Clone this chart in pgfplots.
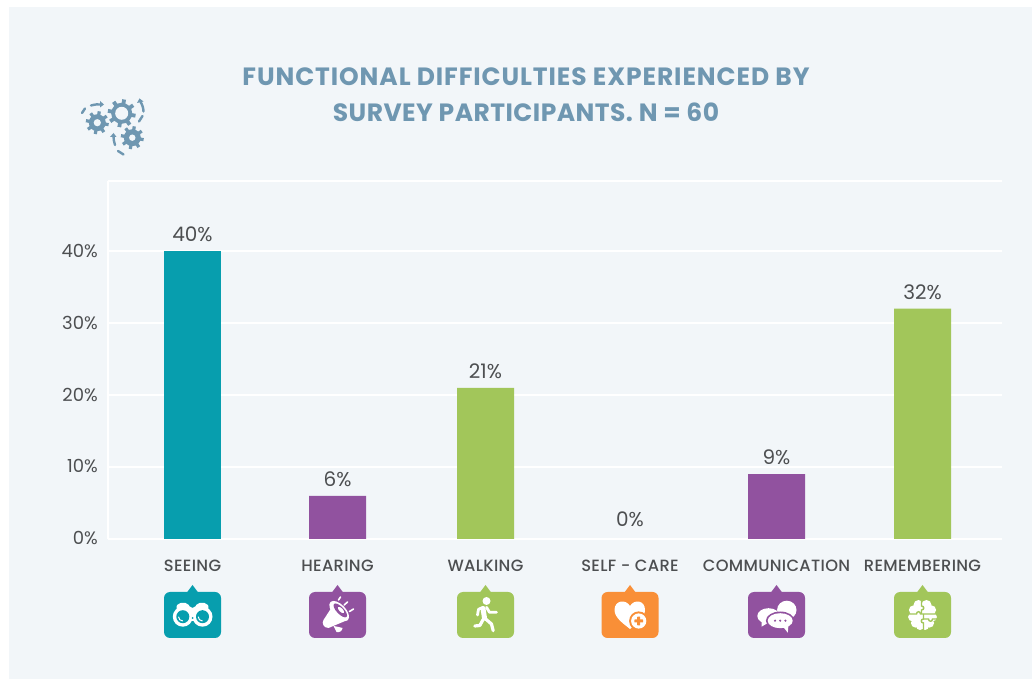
\documentclass[border=0pt]{standalone}
\usepackage{fontspec}
\usepackage{pgfplots}
\pgfplotsset{compat=1.18}
\setmainfont{Poppins}
\newfontfamily\labelfont[LetterSpace=2]{Poppins Medium}
\newfontfamily\numfont{Poppins}
\newfontfamily\headfontA[LetterSpace=3.6]{Poppins Bold}
\newfontfamily\headfontB[LetterSpace=1.8]{Poppins Bold}
\definecolor{panel}{HTML}{F2F6F9}
\definecolor{tealbar}{HTML}{079EAE}
\definecolor{purplebar}{HTML}{91529F}
\definecolor{greenbar}{HTML}{A2C65A}
\definecolor{orangebar}{HTML}{F98F37}
\definecolor{steel}{HTML}{6F97B1}
\definecolor{ink}{HTML}{4D4F51}

% Rounded tile with a small pointer on top; contents are drawn around (0,0)
\newcommand{\icontile}[2]{%
  \fill[#2,rounded corners=6pt] (#1-28.5,592) rectangle (#1+28.5,638);
  \fill[#2] (#1-6,593) -- (#1,585) -- (#1+6,593) -- cycle;
}
% Cog wheel: centre x, centre y, outer radius, body radius, hole radius, tooth width
\newcommand{\cog}[6]{%
  \fill[steel] (#1,#2) circle[radius=#4];
  \foreach \a in {0,45,...,315}
    \draw[steel,line width=#6pt] ([shift={(#1,#2)}]\a+10:#4-1) -- ([shift={(#1,#2)}]\a+10:#3);
  \fill[panel] (#1,#2) circle[radius=#5];
}

\begin{document}
\begin{tikzpicture}
\path[use as bounding box] (0,0) rectangle (1032pt,679pt);
\fill[white] (0,0) rectangle (1032pt,679pt);
\fill[panel] (9pt,0) rectangle (1032pt,672pt);

\begin{axis}[
  at={(108pt,140pt)}, anchor=south west,
  scale only axis, width=894pt, height=358pt,
  xmin=108, xmax=1002, ymin=0, ymax=49.72,
  axis y line*=left, axis x line*=bottom,
  axis line style={white,line width=2.5pt,-},
  xtick={192.5,337.5,485.5,630,776.5,922.5},
  xticklabels={SEEING,HEARING,WALKING,SELF - CARE,COMMUNICATION,REMEMBERING},
  ytick={0,10,20,30,40,49.72},
  yticklabels={\raisebox{2.5pt}{0\%},\raisebox{1.8pt}{10\%},\raisebox{1.2pt}{20\%},\raisebox{0.6pt}{30\%},40\%,{}},
  ymajorgrids, grid style={white,line width=2pt},
  major tick length=0pt,
  tick style={draw=none},
  xticklabel style={font=\fontsize{16.3}{16.3}\labelfont,text=ink,inner sep=0pt,anchor=base,yshift=-33pt},
  yticklabel style={font=\fontsize{18}{18}\numfont,text=ink,inner sep=0pt,anchor=east,xshift=-10pt},
  /pgf/number format/assume math mode=true,
  ybar, bar width=57pt, bar shift=0pt,
  nodes near coords={\pgfmathprintnumber{\pgfplotspointmeta}\%},
  every node near coord/.append style={font=\fontsize{20}{20}\numfont,text=ink,inner sep=0pt,anchor=base,yshift=9.5pt},
  clip=false,
]
\addplot[draw=none,fill=tealbar] coordinates {(192.5,40)};
\addplot[draw=none,fill=purplebar] coordinates {(337.5,6) (776.5,9)};
\addplot[draw=none,fill=greenbar] coordinates {(485.5,21) (922.5,32)};
\addplot[draw=none,fill=none,every node near coord/.append style={yshift=3pt}] coordinates {(630,0)};
\end{axis}

\begin{scope}[x=1pt,y=-1pt,shift={(0pt,679pt)}]
% heading
\node[font=\fontsize{25}{25}\headfontA,text=steel,inner sep=0pt] at (526,77) {FUNCTIONAL DIFFICULTIES EXPERIENCED BY};
\node[font=\fontsize{25}{25}\headfontB,text=steel,inner sep=0pt] at (526,112) {SURVEY PARTICIPANTS. N = 60};

% cog emblem
\cog{121.7}{113.3}{14}{10.5}{6.5}{3.8}
\cog{97.3}{122.7}{11.5}{8.5}{3.6}{3.2}
\cog{132.3}{137.7}{11.5}{8.5}{3.2}{3.2}
\begin{scope}[steel,line width=2.4pt,line cap=round]
  \draw (82,113) -- (85,108.5);
  \draw (91,105.5) .. controls (95,104.5) and (98,104) .. (101,104.5);
  \fill (100,101) -- (104,104.5) -- (100,107.5) -- cycle;
  \draw (139,121.5) -- (142.5,116);
  \draw (143.5,111.5) .. controls (143.5,108) and (142,104) .. (140.5,102);
  \fill (137,103) -- (139.5,98.5) -- (143.5,101.5) -- cycle;
  \draw (123.5,154.5) -- (118,151);
  \draw (115,145) .. controls (114,142) and (113.5,139) .. (113.5,136);
  \fill (110,137) -- (113.5,133) -- (116.5,137) -- cycle;
\end{scope}

% binoculars
\icontile{192.5}{tealbar}
\begin{scope}[shift={(192.5,615)}]
  \fill[white,rounded corners=2pt] (-17,-7) -- (-14,-12) -- (-5,-12) -- (-2,-7) -- (2,-7) -- (5,-12) -- (14,-12) -- (17,-7) -- (10,3) -- (-10,3) -- cycle;
  \fill[white] (-9.7,1.7) circle[radius=10];
  \fill[white] (10,1.7) circle[radius=10];
  \fill[white] (-3,-3) rectangle (3,6);
  \fill[tealbar] (-9.7,1.7) circle[radius=6.5];
  \fill[tealbar] (10,1.7) circle[radius=6.5];
  \draw[white,line width=1pt] (-14,1.7) arc[start angle=180,end angle=90,radius=4.3];
  \draw[white,line width=1pt] (5.7,1.7) arc[start angle=180,end angle=90,radius=4.3];
  \fill[tealbar] (0,3) circle[radius=1];
\end{scope}

% megaphone
\icontile{337.5}{purplebar}
\begin{scope}[shift={(337.5,615)}]
  \fill[white] (-3,-12) -- (10,5) -- (-9,13) .. controls (-14,13) and (-16,8) .. (-14,5) -- cycle;
  \fill[white] (1.7,-4) ellipse[x radius=12.5,y radius=6.5,rotate=-46];
  \fill[purplebar] (2.8,-4.6) ellipse[x radius=9,y radius=3.6,rotate=-46];
  \fill[white] (3.5,-5) ellipse[x radius=4,y radius=1.8,rotate=-46];
  \fill[white] (-4,11) -- (1,12) -- (5,13) .. controls (5,16) and (1,18) .. (-1,17) -- cycle;
  \begin{scope}[white,line width=1.6pt,line cap=round]
    \draw (1,-15) -- (3,-18);
    \draw (6.7,-10) -- (10,-13);
    \draw (12,-3.5) -- (16,-6);
  \end{scope}
\end{scope}

% walking figure
\icontile{485.5}{greenbar}
\begin{scope}[shift={(485.5,615)},white,line cap=round,line join=round]
  \fill (1,-14) circle[radius=4];
  \draw[line width=5pt] (-2.5,-6.5) -- (-1,3);
  \draw[line width=2.8pt] (-8,0) -- (-7,-5.7) -- (-2.3,-7.7);
  \draw[line width=2.8pt] (1,-7.7) -- (4,-2.7) -- (11,-2.7);
  \draw[line width=3.2pt] (-1.5,3) -- (-5.7,10.5) -- (-10.7,11);
  \draw[line width=3.2pt] (-0.7,3.3) -- (6,9) -- (7.7,15.7);
\end{scope}

% heart with plus
\icontile{630}{orangebar}
\begin{scope}[shift={(630,615)}]
  \fill[white] (0,14) .. controls (-6,9) and (-15.5,3) .. (-15.5,-5) .. controls (-15.5,-15) and (-4,-16) .. (0,-9) .. controls (4,-16) and (15,-15) .. (15,-5) .. controls (15,3) and (6,9) .. (0,14) -- cycle;
  \fill[orangebar] (8.7,6) circle[radius=9.6];
  \fill[white] (8.7,6) circle[radius=7.6];
  \fill[orangebar,rounded corners=0.5pt] (7.2,1.6) rectangle (10.2,10.4);
  \fill[orangebar,rounded corners=0.5pt] (4.3,4.5) rectangle (13.1,7.5);
\end{scope}

% speech bubbles
\icontile{776.5}{purplebar}
\begin{scope}[shift={(776.5,615)}]
  \fill[white] (10.3,-5) ellipse[x radius=9.7,y radius=9.3];
  \fill[white] (-8,1) ellipse[x radius=11.2,y radius=7.8];
  \fill[white] (-15,4) -- (-15,11.7) -- (-7,7) -- cycle;
  \fill[purplebar] (3.7,5.7) ellipse[x radius=14.3,y radius=9.2];
  \fill[white] (3.7,5.7) ellipse[x radius=12.5,y radius=7.5];
  \fill[white] (6,11) -- (11.3,17.7) -- (12,9) -- cycle;
  \foreach \dx in {-1.5,3.7,8.9} \fill[purplebar] (\dx,5.7) circle[radius=1.2];
\end{scope}

% puzzle brain
\icontile{922.5}{greenbar}
\begin{scope}[shift={(922.5,615)}]
  \fill[white] (0,0) ellipse[x radius=10,y radius=12];
  \foreach \x/\y/\r in {-4/-10/5,4/-10/5,-9/-5/4.6,9/-5/4.6,-10/2/4.4,10/2/4.4,-7/8/4.6,7/8/4.6,-2.5/11/4,2.5/11/4}
    \fill[white] (\x,\y) circle[radius=\r];
  \begin{scope}[greenbar,line width=1.4pt]
    \draw (-1,-15) -- (-1,-9) .. controls (2,-9) and (2,-5) .. (-1,-5) -- (-1,-1);
    \draw (-15,-1) -- (-6,-1) .. controls (-6,-4) and (-2,-4) .. (-2,-1) -- (15,-1);
    \draw (1,-1) -- (1,4) .. controls (-2,4) and (-2,8) .. (1,8) -- (1,16);
    \draw (1,4) -- (6,4) .. controls (6,7) and (10,7) .. (10,4) -- (15,4);
  \end{scope}
\end{scope}
\end{scope}
\end{tikzpicture}
\end{document}
